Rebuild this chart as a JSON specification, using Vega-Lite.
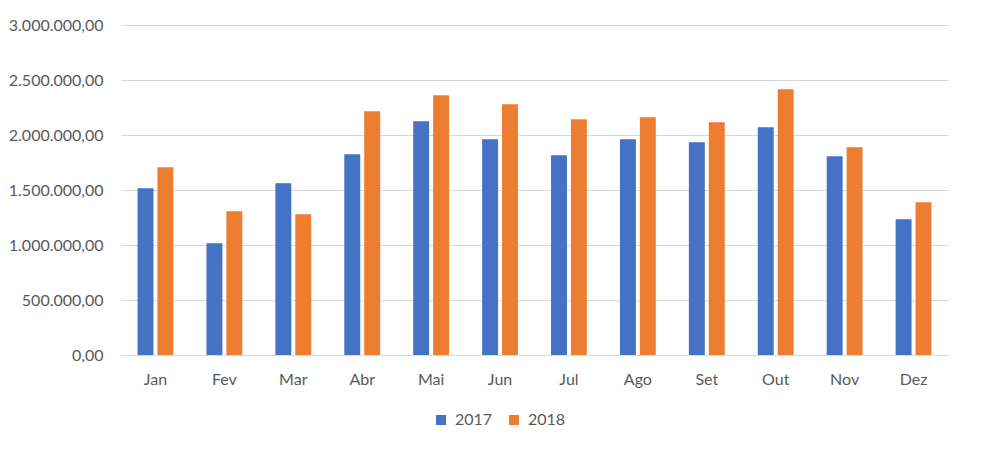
{
  "$schema": "https://vega.github.io/schema/vega-lite/v6.json",
  "width": 827,
  "height": 330,
  "autosize": {"type": "none"},
  "padding": {"left": 121, "top": 25, "right": 34, "bottom": 97},
  "background": "white",
  "config": {
    "locale": {"number": {"decimal": ",", "thousands": ".", "grouping": [3], "currency": ["R$", ""]}},
    "view": {"stroke": null},
    "font": "Lato",
    "axis": {"labelFont": "Lato", "labelFontSize": 16, "labelColor": "#595959", "ticks": false}
  },
  "data": {
    "values": [
      {"mes": "Jan", "ano": "2017", "valor": 1515000},
      {"mes": "Jan", "ano": "2018", "valor": 1706000},
      {"mes": "Fev", "ano": "2017", "valor": 1015000},
      {"mes": "Fev", "ano": "2018", "valor": 1306000},
      {"mes": "Mar", "ano": "2017", "valor": 1561000},
      {"mes": "Mar", "ano": "2018", "valor": 1279000},
      {"mes": "Abr", "ano": "2017", "valor": 1824000},
      {"mes": "Abr", "ano": "2018", "valor": 2215000},
      {"mes": "Mai", "ano": "2017", "valor": 2124000},
      {"mes": "Mai", "ano": "2018", "valor": 2361000},
      {"mes": "Jun", "ano": "2017", "valor": 1961000},
      {"mes": "Jun", "ano": "2018", "valor": 2279000},
      {"mes": "Jul", "ano": "2017", "valor": 1815000},
      {"mes": "Jul", "ano": "2018", "valor": 2143000},
      {"mes": "Ago", "ano": "2017", "valor": 1961000},
      {"mes": "Ago", "ano": "2018", "valor": 2161000},
      {"mes": "Set", "ano": "2017", "valor": 1934000},
      {"mes": "Set", "ano": "2018", "valor": 2115000},
      {"mes": "Out", "ano": "2017", "valor": 2070000},
      {"mes": "Out", "ano": "2018", "valor": 2415000},
      {"mes": "Nov", "ano": "2017", "valor": 1806000},
      {"mes": "Nov", "ano": "2018", "valor": 1888000},
      {"mes": "Dez", "ano": "2017", "valor": 1234000},
      {"mes": "Dez", "ano": "2018", "valor": 1388000}
    ]
  },
  "mark": {"type": "bar"},
  "encoding": {
    "x": {
      "field": "mes",
      "type": "nominal",
      "sort": ["Jan", "Fev", "Mar", "Abr", "Mai", "Jun", "Jul", "Ago", "Set", "Out", "Nov", "Dez"],
      "scale": {"paddingInner": 0.48, "paddingOuter": 0.24},
      "axis": {"title": null, "labelAngle": 0, "labelPadding": 16, "domain": true, "domainColor": "#d9d9d9", "domainWidth": 1, "grid": false}
    },
    "xOffset": {"field": "ano", "type": "nominal", "scale": {"paddingInner": 0.2}},
    "y": {
      "field": "valor",
      "type": "quantitative",
      "scale": {"domain": [0, 3000000]},
      "axis": {"title": null, "values": [0, 500000, 1000000, 1500000, 2000000, 2500000, 3000000], "format": ",.2f", "labelPadding": 18, "domain": false, "grid": true, "gridColor": "#d9d9d9", "gridWidth": 1}
    },
    "color": {
      "field": "ano",
      "type": "nominal",
      "scale": {"domain": ["2017", "2018"], "range": ["#4472C4", "#ED7D31"]},
      "legend": {
        "title": null,
        "orient": "none",
        "direction": "horizontal",
        "legendX": 312,
        "legendY": 387,
        "symbolType": "square",
        "symbolSize": 100,
        "symbolStrokeWidth": 0,
        "labelFont": "Lato",
        "labelFontSize": 16,
        "labelColor": "#595959",
        "labelOffset": 6,
        "columnPadding": 13
      }
    }
  }
}
